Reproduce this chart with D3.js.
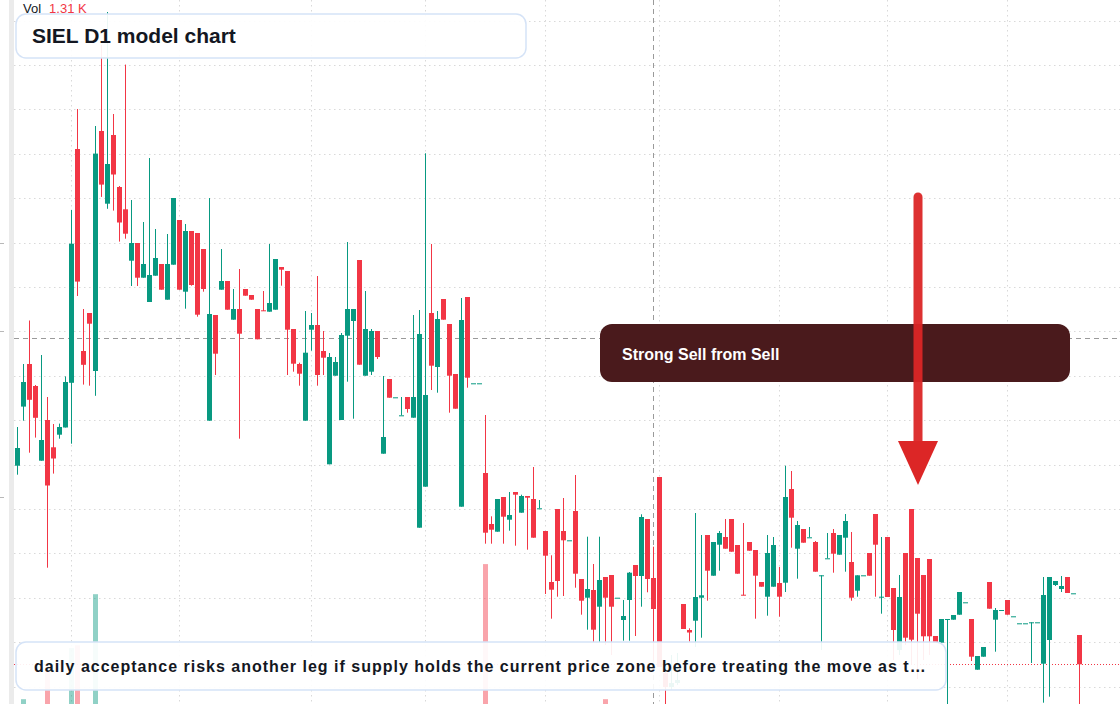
<!DOCTYPE html>
<html><head><meta charset="utf-8">
<script src="https://cdn.jsdelivr.net/npm/d3@7"></script>
<style>html,body{margin:0;padding:0;background:#fff;overflow:hidden}svg{display:block}</style>
</head><body><svg id="chart" width="1120" height="704"></svg>
<script>
const opens = [53.43,59.34,63.60,61.40,53.93,58.00,55.27,56.53,57.25,61.72,
85.10,64.90,68.70,62.90,86.90,79.63,86.50,81.30,79.07,73.93,
75.70,72.23,69.80,72.43,73.60,70.03,73.53,78.00,70.83,76.90,
76.70,75.10,57.93,68.50,71.03,71.90,68.03,69.10,71.10,70.50,
69.10,68.97,68.83,69.03,73.30,72.90,67.10,63.60,57.93,67.03,
67.50,64.90,53.57,62.43,58.00,66.43,67.90,74.00,62.43,62.83,
66.90,54.63,62.10,60.27,58.47,60.30,58.23,47.23,51.33,68.70,
63.30,70.10,67.60,62.60,49.33,70.30,61.67,61.67,52.70,47.60,
46.83,50.30,48.03,50.80,48.73,50.40,50.10,49.17,46.90,41.80,
49.10,46.90,45.97,48.90,42.10,40.23,41.00,39.33,42.30,42.50,
40.23,38.00,40.00,43.50,42.40,48.10,42.20,52.30,32.70,31.30,
31.70,39.60,37.00,37.93,40.23,46.50,42.43,45.53,46.30,48.10,
45.50,40.53,45.80,45.00,41.80,40.33,41.33,41.70,41.73,51.10,
45.13,47.10,46.27,45.80,42.47,44.17,46.70,44.53,46.23,43.80,
40.93,42.47,44.70,48.60,40.33,46.30,41.20,35.00,44.70,49.10,
44.20,42.50,44.10,36.40,35.73,38.10,38.03,38.53,39.77,38.10,
33.03,34.33,41.80,38.03,39.00,40.00,38.37,37.67,37.67,37.77,
37.77,33.63,36.00,41.50,41.10,42.30,40.67,36.50];
const highs = [57.30,63.60,67.95,61.50,64.50,60.30,57.60,57.64,62.36,79.01,
89.10,69.10,68.70,87.40,95.50,98.80,88.60,81.40,93.54,80.00,
75.70,77.80,84.20,77.10,73.60,76.60,80.20,78.00,77.60,76.90,
76.70,75.10,80.20,68.50,75.10,71.90,71.10,73.10,71.10,70.50,
69.10,70.90,75.60,74.10,73.30,72.90,67.10,63.73,68.90,68.70,
72.40,66.90,64.70,64.30,66.70,75.80,69.10,74.00,70.90,67.10,
66.90,62.40,62.10,60.27,60.30,60.30,68.50,69.00,84.67,75.60,
68.90,70.10,67.60,62.60,70.20,70.30,61.67,61.67,58.50,48.37,
50.10,50.30,50.80,50.80,50.53,50.40,53.30,50.00,46.90,44.47,
49.10,50.20,45.97,52.50,42.10,46.33,43.60,46.33,42.30,42.50,
40.23,40.00,42.80,43.50,48.57,48.10,45.33,52.30,33.00,34.50,
34.70,39.60,37.17,48.70,46.50,46.50,45.80,46.90,48.10,48.10,
45.50,47.70,45.80,45.00,41.80,46.50,46.30,43.30,53.43,52.90,
47.90,47.10,47.30,45.90,42.47,46.70,47.10,46.50,48.60,46.80,
42.47,42.47,44.70,48.60,46.30,46.30,41.20,42.50,44.70,49.10,
44.20,42.50,44.10,36.40,38.10,38.10,38.50,40.80,39.77,38.10,
34.40,35.30,41.80,39.20,39.00,40.00,38.37,37.67,37.67,37.77,
37.77,42.30,42.30,41.90,42.40,42.30,40.67,36.50];
const lows = [52.53,57.93,54.73,56.24,53.93,43.23,52.64,56.13,57.25,55.63,
70.40,61.54,61.43,60.42,80.31,79.12,78.94,75.84,76.13,71.40,
71.40,72.23,69.80,72.43,71.03,70.03,73.53,71.03,69.13,71.43,
68.33,70.83,57.93,62.50,71.03,69.03,68.03,56.13,70.43,70.03,
66.07,68.90,68.83,69.03,71.43,62.50,62.83,61.43,57.93,64.93,
61.43,62.50,53.57,62.43,58.00,61.83,58.13,63.53,62.43,62.50,
64.10,54.63,60.23,60.27,58.47,58.73,58.23,47.23,51.33,61.00,
60.73,68.03,58.73,59.13,49.33,61.23,61.67,61.67,45.63,45.63,
46.83,45.63,46.93,45.43,48.73,45.03,46.23,49.17,40.60,38.13,
40.33,40.40,45.97,41.23,38.53,37.03,35.80,35.80,35.50,34.50,
40.23,35.93,35.93,36.40,39.33,40.77,34.00,33.30,28.00,31.00,
31.50,37.10,35.83,35.30,36.23,39.93,42.43,42.93,45.13,44.83,
42.63,40.47,44.93,38.13,41.33,38.43,41.33,38.33,40.80,45.23,
42.13,45.73,46.27,42.83,35.00,44.17,42.73,44.53,42.83,39.93,
40.33,42.47,42.43,40.33,38.63,40.30,34.00,34.50,35.50,33.50,
32.10,34.00,34.50,35.70,35.73,28.00,38.03,38.53,39.77,33.90,
33.03,34.33,39.13,34.83,39.00,38.53,38.37,37.67,37.67,33.70,
37.77,29.73,30.33,41.40,40.80,40.70,40.67,28.00];
const closes = [55.20,61.80,60.02,58.22,56.00,51.45,54.15,57.30,61.80,75.63,
71.84,63.52,67.63,84.64,81.54,83.60,82.55,77.75,76.63,75.70,
72.23,73.60,72.50,74.20,71.03,73.60,80.20,71.03,76.90,71.50,
68.53,71.10,68.60,64.63,71.90,69.03,69.10,66.63,70.43,70.03,
66.07,68.90,69.70,74.10,73.03,67.03,63.63,62.63,64.73,67.50,
62.50,64.23,64.30,63.80,66.50,69.10,69.10,63.53,67.10,66.90,
64.30,56.30,60.23,60.27,58.47,59.10,60.30,66.60,60.50,63.43,
68.10,68.03,62.43,59.13,68.00,62.23,61.67,61.67,46.73,47.03,
50.10,48.33,48.50,50.53,50.40,50.23,46.23,49.17,44.43,41.03,
41.90,45.97,45.97,42.63,39.93,41.10,37.03,42.00,40.23,39.33,
40.23,38.40,42.73,42.40,48.30,42.10,39.10,33.30,31.30,31.70,
32.00,37.10,36.75,40.30,40.47,42.93,45.80,46.70,45.13,44.83,
42.63,40.47,44.93,42.43,41.33,44.70,45.50,40.33,50.30,48.23,
47.50,45.73,46.27,42.83,42.47,44.17,44.63,46.50,47.90,40.23,
42.47,42.47,42.43,45.53,40.33,40.30,37.00,40.30,36.23,36.03,
38.63,36.37,36.37,35.70,38.10,38.10,38.50,40.80,39.77,34.33,
34.40,35.30,39.13,39.00,39.00,38.53,38.37,37.67,37.67,37.77,
37.77,40.50,42.30,41.90,41.40,40.70,40.67,33.57];
const volumes = [2.1,4.4,3.1,2.4,2.8,9.4,2.2,1.1,2.6,11.7,
12.1,3.0,2.5,19.4,3.3,3.5,2.9,2.0,3.2,1.9,
1.7,1.2,2.7,1.5,1.3,1.8,2.6,2.2,2.4,1.6,
2.3,1.4,3.1,1.9,1.2,1.0,0.9,2.1,0.7,0.6,
1.1,0.8,1.5,1.6,0.7,1.9,1.3,0.9,2.2,1.0,
1.8,0.8,2.5,0.9,2.0,1.7,1.4,2.3,1.6,1.1,
0.8,1.2,0.9,0.3,0.5,0.6,1.4,3.2,3.4,2.0,
1.5,0.9,1.6,1.0,2.9,2.1,0.3,0.3,23.7,1.2,
1.4,1.1,1.0,1.3,0.9,1.2,1.6,0.6,1.7,1.5,
2.0,1.6,0.4,2.2,1.4,1.8,1.9,2.0,4.4,2.1,
0.4,1.2,1.8,1.3,2.4,1.9,2.3,3.4,2.2,1.5,
1.3,1.6,0.8,2.6,1.4,1.7,1.5,1.1,1.0,1.3,
1.2,1.4,0.7,1.3,0.6,1.8,1.5,1.2,2.9,2.1,
1.6,0.8,0.6,1.2,1.7,0.9,1.1,0.9,1.4,1.6,
0.9,0.3,0.9,1.5,1.3,1.7,2.3,2.5,2.8,3.3,
2.6,2.4,2.7,0.9,1.2,1.6,0.5,1.1,0.3,1.7,
1.0,0.8,1.4,1.3,0.3,0.9,0.2,0.2,0.2,0.9,
0.2,3.0,2.8,0.6,0.7,0.8,0.2,1.31];
const gridPrices = [31.35,35.79,40.23,44.67,49.11,53.55,57.99,62.43,66.87,71.31,75.75,80.19,84.63,89.07,93.51,97.95];
const edgeMarks = [75.75, 66.87, 50.35];
const monthStarts = [9,27,49,68,88,107,127,145,165];
const crosshairIndex = 106;
const crosshairPrice = 66.2;
const signalIndex = 150;
const titleText = "SIEL D1 model chart";
const noteText = "daily acceptance risks another leg if supply holds the current price zone before treating the move as t\u2026";
const signalText = "Strong Sell from Sell";
const volLabel = "Vol";
const volValue = "1.31 K";

const W = 1120, H = 704;
const UP = "#089981", DOWN = "#f23645";
const svg = d3.select("#chart");
const N = opens.length;
const x = d3.scaleLinear().domain([0, N - 1]).range([17.5, 1079.5]);
const y = d3.scaleLinear().domain([100, 29.6]).range([0, H]);
const v = d3.scaleLinear().domain([0, 24]).range([730, 562]);
const font = "'Liberation Sans', Arial, sans-serif";

// left strip and edge marks
svg.append("rect").attr("x", 9).attr("y", 0).attr("width", 5).attr("height", H).attr("fill", "#ebebeb");
svg.append("g").selectAll("line").data(edgeMarks).join("line")
  .attr("x1", 0).attr("x2", 4).attr("y1", d => Math.round(y(d)) + 0.5).attr("y2", d => Math.round(y(d)) + 0.5)
  .attr("stroke", "#b8b8b8");

// grid
const grid = svg.append("g").attr("stroke", "#d9d9d9").attr("stroke-width", 1).attr("stroke-dasharray", "1.5,3.5");
grid.selectAll("line.h").data(gridPrices).join("line").attr("class", "h")
  .attr("x1", 14).attr("x2", W).attr("y1", d => Math.round(y(d)) + 0.5).attr("y2", d => Math.round(y(d)) + 0.5);
grid.selectAll("line.v").data(monthStarts).join("line").attr("class", "v")
  .attr("x1", d => x(d)).attr("x2", d => x(d)).attr("y1", 0).attr("y2", H);

// volume
const up = i => closes[i] >= opens[i];
svg.append("g").selectAll("rect").data(volumes).join("rect")
  .attr("x", (d, i) => x(i) - 2.5).attr("width", 5)
  .attr("y", d => v(d)).attr("height", d => v(0) - v(d))
  .attr("fill", (d, i) => up(i) ? UP : DOWN).attr("fill-opacity", 0.45);

// crosshair
const cx = x(crosshairIndex), cy = Math.round(y(crosshairPrice)) + 0.5;
svg.append("line").attr("x1", cx).attr("x2", cx).attr("y1", 0).attr("y2", H)
  .attr("stroke", "#9a9a9a").attr("stroke-dasharray", "5,4");
svg.append("line").attr("x1", 14).attr("x2", W).attr("y1", cy).attr("y2", cy)
  .attr("stroke", "#9a9a9a").attr("stroke-dasharray", "5,4");

// last price line
const ly = Math.round(y(closes[N - 1])) + 0.5;
svg.append("line").attr("x1", 14).attr("x2", W).attr("y1", ly).attr("y2", ly)
  .attr("stroke", DOWN).attr("stroke-dasharray", "1,2");

// candles
const cg = svg.append("g");
const idx = d3.range(N);
cg.selectAll("line").data(idx).join("line")
  .attr("x1", i => x(i)).attr("x2", i => x(i))
  .attr("y1", i => y(highs[i])).attr("y2", i => y(lows[i]))
  .attr("stroke", i => up(i) ? UP : DOWN).attr("stroke-width", 1);
cg.selectAll("rect").data(idx).join("rect")
  .attr("x", i => x(i) - 2.5).attr("width", 5)
  .attr("y", i => y(Math.max(opens[i], closes[i])))
  .attr("height", i => Math.max(1, Math.abs(y(opens[i]) - y(closes[i]))))
  .attr("fill", i => up(i) ? UP : DOWN);

// signal box
svg.append("rect").attr("x", 600).attr("y", 324).attr("width", 470).attr("height", 58).attr("rx", 12)
  .attr("fill", "#4a1a1c");
svg.append("text").attr("x", 622).attr("y", 360).text(signalText)
  .attr("font-family", font).attr("font-weight", "bold").attr("font-size", 16).attr("fill", "#ffffff");

// arrow
const ax = x(signalIndex) + 0.5;
svg.append("line").attr("x1", ax).attr("x2", ax).attr("y1", 197).attr("y2", 443)
  .attr("stroke", "#dc2626").attr("stroke-width", 9).attr("stroke-linecap", "round").attr("opacity", 0.95);
svg.append("path").attr("d", `M${ax - 20},441 L${ax + 20},441 L${ax},485 Z`).attr("fill", "#dc2626");

// title box
svg.append("rect").attr("x", 16).attr("y", 14).attr("width", 510).attr("height", 44).attr("rx", 10)
  .attr("fill", "#ffffff").attr("fill-opacity", 0.92).attr("stroke", "#d5e3f7").attr("stroke-width", 1.5);
svg.append("text").attr("x", 32).attr("y", 43).text(titleText)
  .attr("font-family", font).attr("font-weight", "bold").attr("font-size", 21).attr("fill", "#131722");

// note box
svg.append("rect").attr("x", 16).attr("y", 642).attr("width", 930).attr("height", 48).attr("rx", 10)
  .attr("fill", "#ffffff").attr("fill-opacity", 0.92).attr("stroke", "#d5e3f7").attr("stroke-width", 1.5);
svg.append("text").attr("x", 34).attr("y", 672).text(noteText)
  .attr("font-family", font).attr("font-weight", "bold").attr("font-size", 16).attr("letter-spacing", 1)
  .attr("fill", "#131722");

// volume legend
const vl = svg.append("text").attr("x", 23).attr("y", 13).attr("font-family", font).attr("font-size", 13);
vl.append("tspan").text(volLabel).attr("fill", "#131722");
vl.append("tspan").attr("dx", 8).text(volValue).attr("fill", DOWN);
</script></body></html>
